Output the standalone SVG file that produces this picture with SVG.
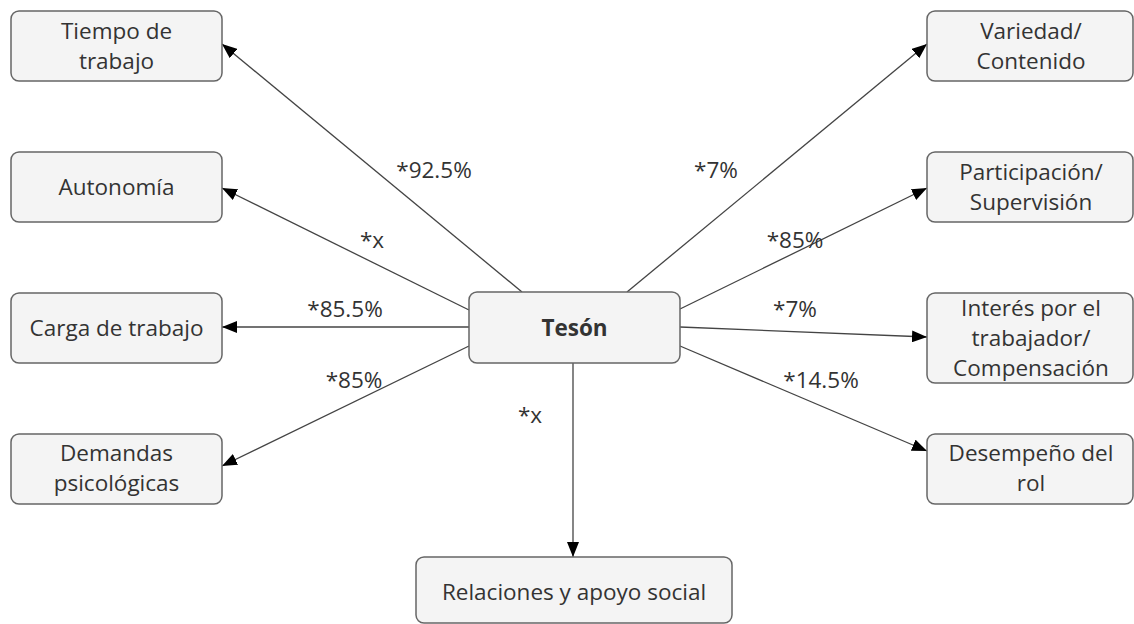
<svg xmlns="http://www.w3.org/2000/svg" width="1134" height="624" viewBox="0 0 1134 624">
<style>
.box{fill:#f4f4f4;stroke:#666;stroke-width:1.5}
.t{font-family:"Open Sans",sans-serif;font-size:22.5px;fill:#333;text-anchor:middle}
.b{font-weight:bold}
.e{stroke:#444;stroke-width:1.3;fill:none;marker-end:url(#ah)}
.l{font-family:"Open Sans",sans-serif;font-size:22.5px;fill:#333;text-anchor:middle}
</style>
<defs>
<marker id="ah" viewBox="0 0 15 12" refX="15" refY="6" markerWidth="15" markerHeight="12" markerUnits="userSpaceOnUse" orient="auto">
<path d="M0,0 L15,6 L0,12 z" fill="#000"/>
</marker>
</defs>
<rect width="1134" height="624" fill="#fff"/>
<g id="connectors">
<line class="e" x1="522" y1="292" x2="222" y2="44"/>
<line class="e" x1="469" y1="310" x2="222" y2="188"/>
<line class="e" x1="469" y1="327" x2="222" y2="327"/>
<line class="e" x1="469" y1="346" x2="222" y2="466"/>
<line class="e" x1="627" y1="292" x2="927" y2="44"/>
<line class="e" x1="680" y1="309" x2="927" y2="188"/>
<line class="e" x1="680" y1="327" x2="927" y2="337"/>
<line class="e" x1="680" y1="346" x2="927" y2="451"/>
<line class="e" x1="573" y1="363" x2="573" y2="557"/>
<text class="l" x="434" y="178">*92.5%</text>
<text class="l" x="372" y="248">*x</text>
<text class="l" x="345" y="317">*85.5%</text>
<text class="l" x="354" y="388">*85%</text>
<text class="l" x="530" y="423">*x</text>
<text class="l" x="716" y="178">*7%</text>
<text class="l" x="795" y="248">*85%</text>
<text class="l" x="795" y="317">*7%</text>
<text class="l" x="821" y="388">*14.5%</text>
</g>
<g id="teson"><rect class="box" x="469" y="292" width="211" height="71" rx="8"/><text class="t b" x="574.5" y="336">Tesón</text></g>
<g id="tiempo"><rect class="box" x="11" y="11" width="211" height="70" rx="8"/><text class="t" x="116.5" y="39">Tiempo de</text><text class="t" x="116.5" y="69">trabajo</text></g>
<g id="autonomia"><rect class="box" x="11" y="152" width="211" height="70" rx="8"/><text class="t" x="116.5" y="195">Autonomía</text></g>
<g id="carga"><rect class="box" x="11" y="293" width="211" height="70" rx="8"/><text class="t" x="116.5" y="336">Carga de trabajo</text></g>
<g id="demandas"><rect class="box" x="11" y="434" width="211" height="70" rx="8"/><text class="t" x="116.5" y="461">Demandas</text><text class="t" x="116.5" y="491">psicológicas</text></g>
<g id="variedad"><rect class="box" x="927" y="11" width="206" height="70" rx="8"/><text class="t" x="1031" y="39">Variedad/</text><text class="t" x="1031" y="69">Contenido</text></g>
<g id="participacion"><rect class="box" x="927" y="152" width="206" height="70" rx="8"/><text class="t" x="1031" y="180">Participación/</text><text class="t" x="1031" y="210">Supervisión</text></g>
<g id="interes"><rect class="box" x="927" y="293" width="206" height="90" rx="8"/><text class="t" x="1031" y="316">Interés por el</text><text class="t" x="1031" y="346">trabajador/</text><text class="t" x="1031" y="376">Compensación</text></g>
<g id="desempeno"><rect class="box" x="927" y="434" width="206" height="70" rx="8"/><text class="t" x="1031" y="461">Desempeño del</text><text class="t" x="1031" y="491">rol</text></g>
<g id="relaciones"><rect class="box" x="416" y="557" width="316" height="66" rx="8"/><text class="t" x="574" y="600">Relaciones y apoyo social</text></g>
</svg>
